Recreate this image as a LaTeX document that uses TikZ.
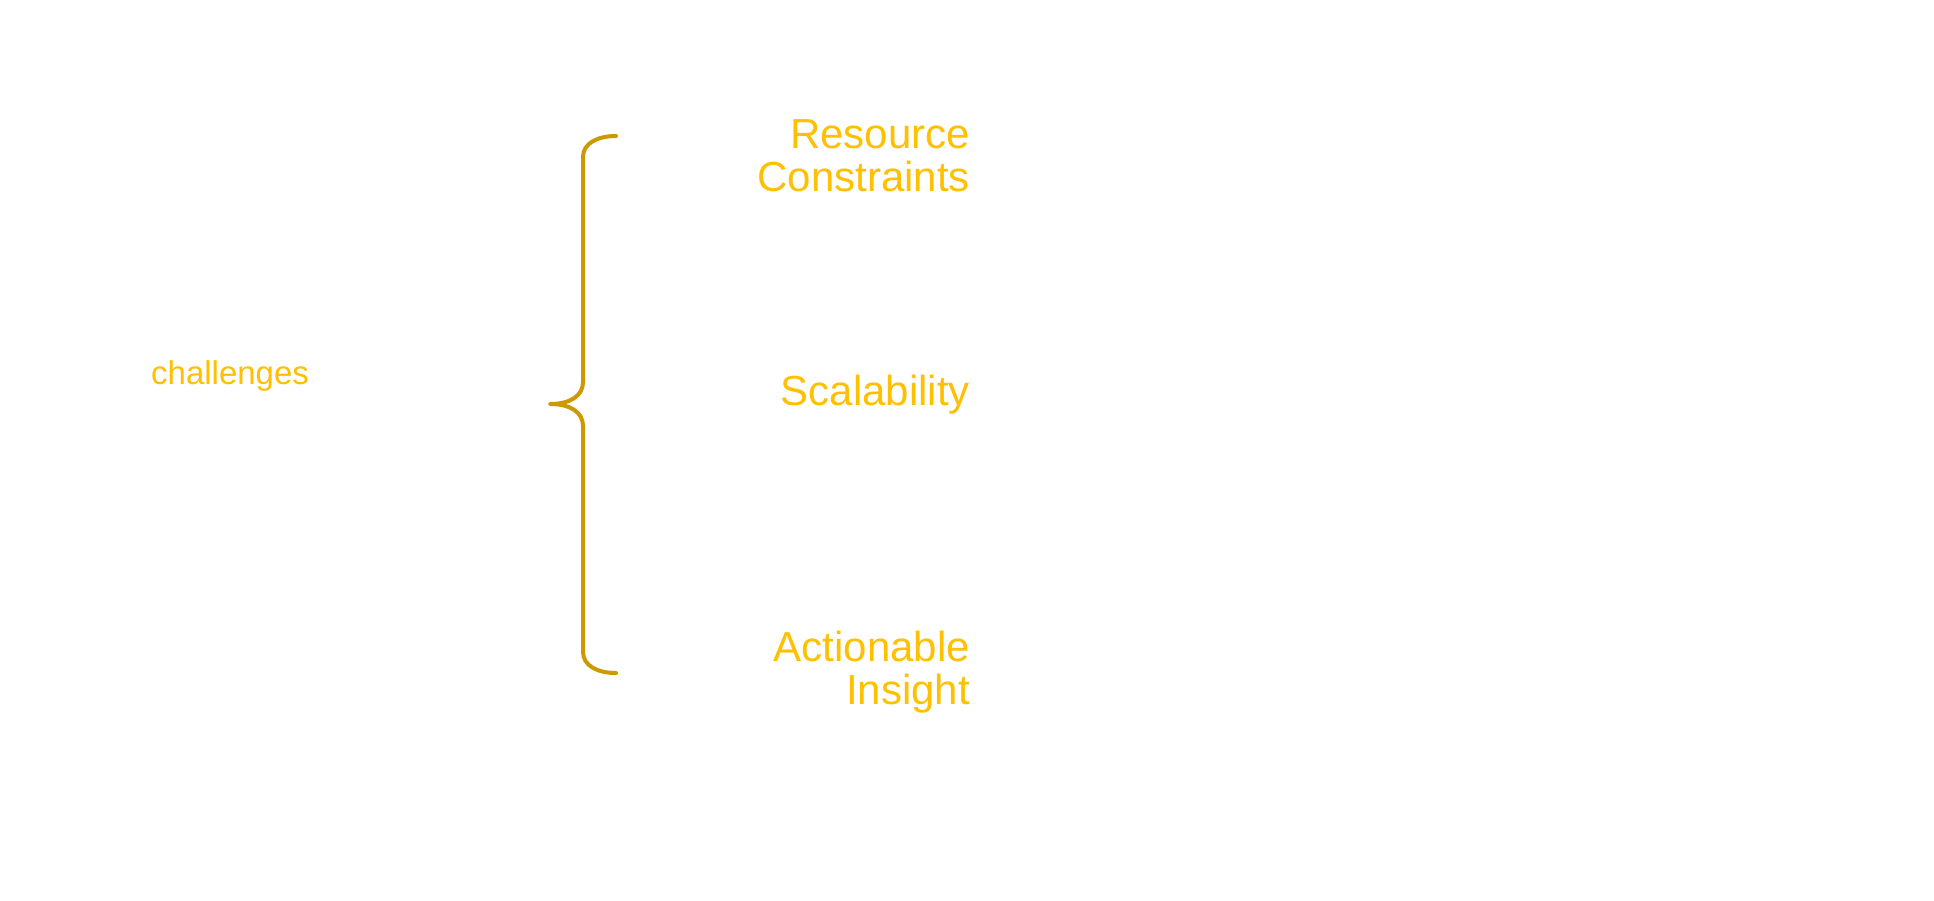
\documentclass[tikz,border=0pt]{standalone}
\usepackage{fontspec}
\setmainfont{Liberation Sans}
\definecolor{labelgold}{RGB}{255,192,0}
\definecolor{bracegold}{RGB}{204,153,0}
\begin{document}
\begin{tikzpicture}[x=1pt,y=-1pt,
  biglabel/.style={text=labelgold, inner sep=0pt, align=right,
    font=\fontsize{42}{43}\selectfont},
  smalllabel/.style={text=labelgold, inner sep=0pt,
    font=\fontsize{33}{36}\selectfont},
  brace/.style={draw=bracegold, line width=4pt, line cap=round, line join=round}]
  \useasboundingbox[fill=white] (0,0) rectangle (1934,900);

  % left-hand topic
  \node[smalllabel, anchor=base west] (topic) at (151,384) {challenges};

  % curly brace grouping the three items
  \coordinate (btop) at (616,136);
  \coordinate (bmid) at (550,404);
  \coordinate (bbot) at (616,673);
  \draw[brace] (btop) .. controls (598,136) and (583,143) .. (583,157)
    -- (583,382) .. controls (583,396) and (570,404) .. (bmid)
    .. controls (570,404) and (583,412) .. (583,426)
    -- (583,652) .. controls (583,666) and (598,673) .. (bbot);

  % the three items (anchored on the baseline of their last line)
  \node[biglabel, anchor=base east] (res) at (970,191) {Resource\\Constraints};
  \node[biglabel, anchor=base east] (scal) at (970,405) {Scalability};
  \node[biglabel, anchor=base east] (act) at (970,704) {Actionable\\Insight};
\end{tikzpicture}
\end{document}
